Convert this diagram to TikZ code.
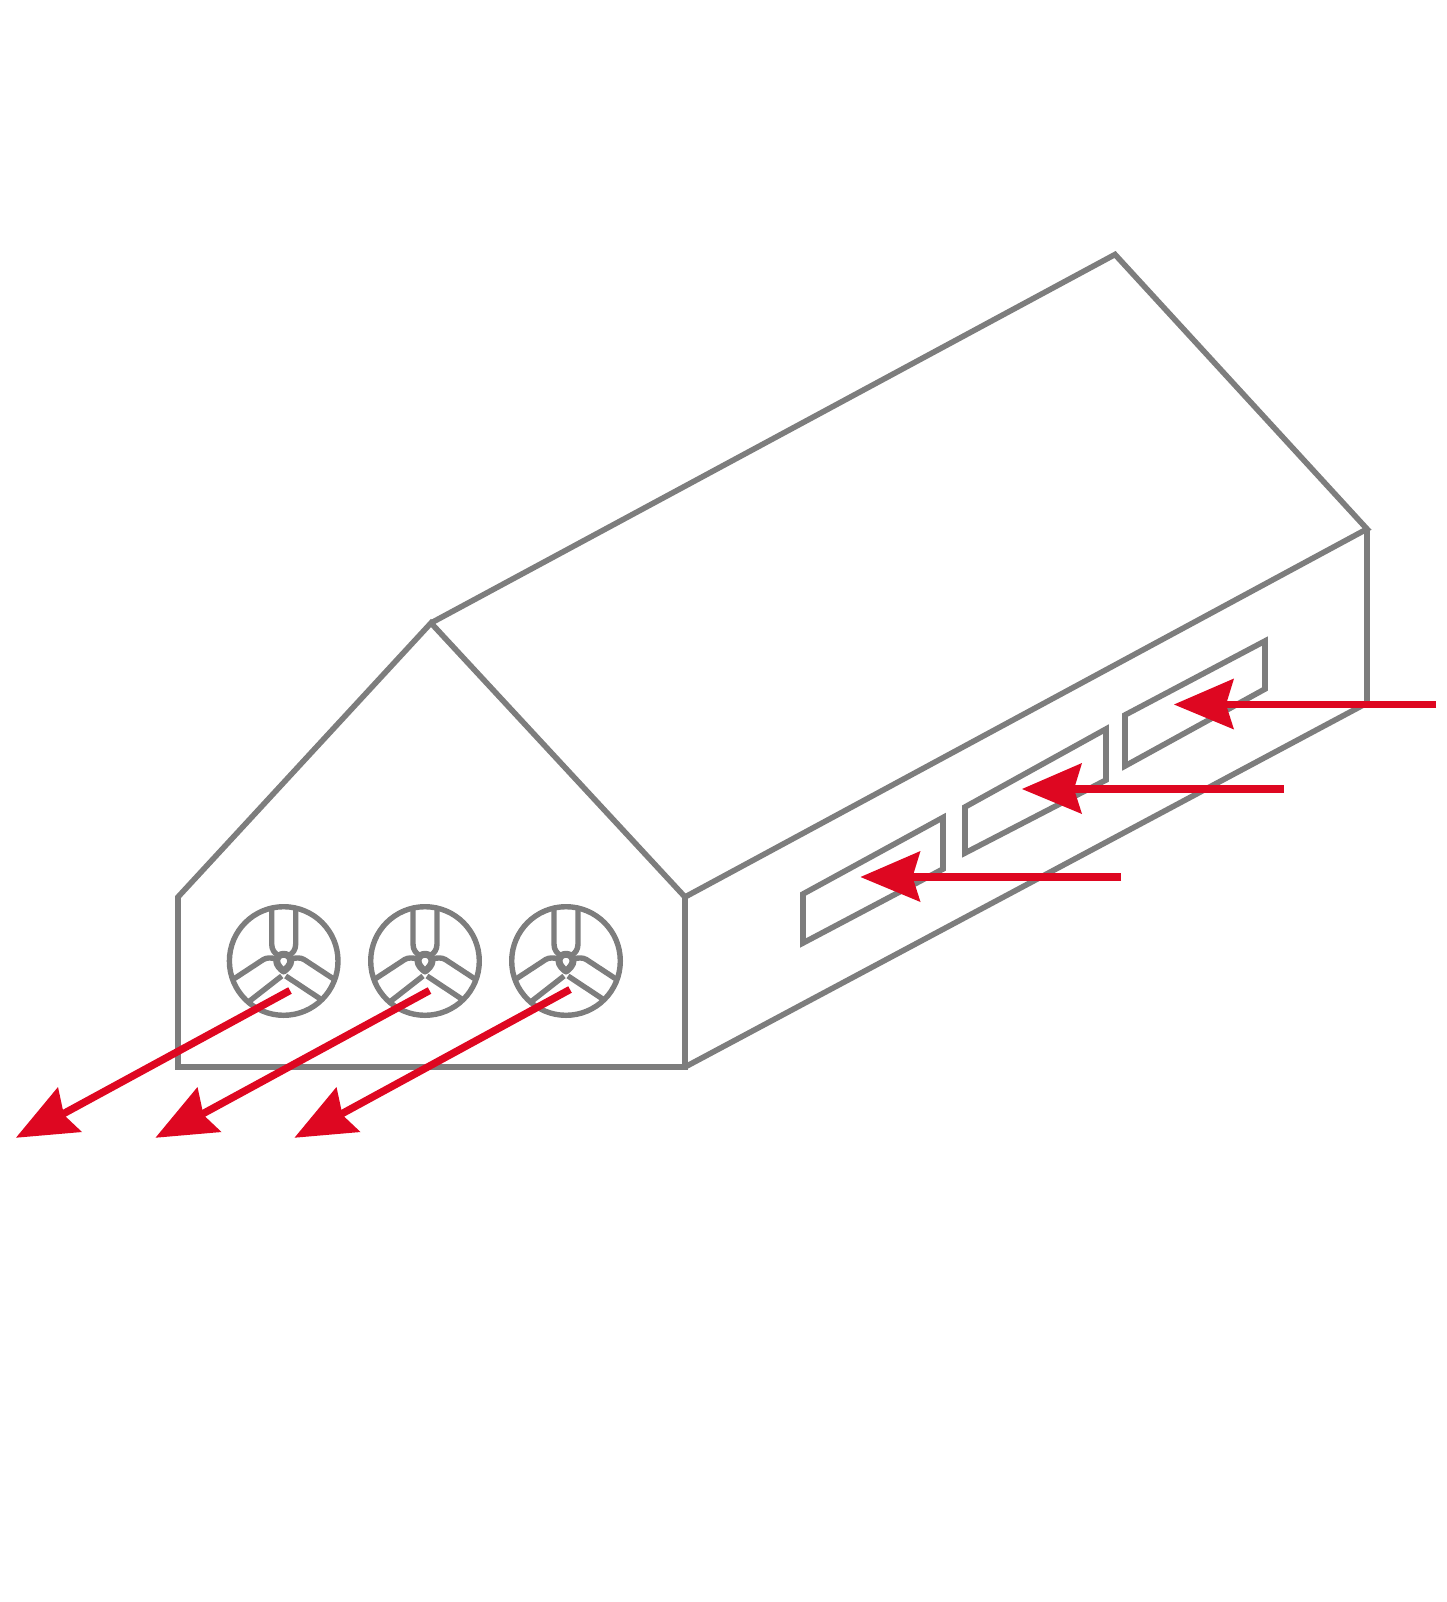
\documentclass[tikz,border=0pt]{standalone}
\definecolor{wallgray}{RGB}{125,125,125}
\definecolor{airred}{RGB}{222,7,33}
\tikzset{
  wall/.style={draw=wallgray,line width=5.6pt,line join=miter,miter limit=4},
  fanline/.style={draw=wallgray,line width=5.4pt,line join=round},
  airshaft/.style={draw=airred,line width=7.4pt},
  airtip/.style={fill=airred,draw=none}
}
\newcommand{\fanat}[1]{%
\begin{scope}[shift={(#1)}]
  \draw[fanline] (0,0) circle (54.3);
  \draw[fanline] (-12,-54) -- (-12,-17) .. controls (-12,-11) and (-9,-8) .. (-6,-6);
  \draw[fanline] (12,-54) -- (12,-17) .. controls (12,-11) and (9,-8) .. (6,-6);
  \draw[fanline] (-52,19.3) -- (-20.3,-1.5) .. controls (-17,-3.5) and (-12,-3.5) .. (-8,-2);
  \draw[fanline] (52,19.3) -- (20.3,-1.5) .. controls (17,-3.5) and (12,-3.5) .. (8,-2);
  \draw[fanline] (-35.3,41) -- (-2,15);
  \draw[fanline] (36.3,37.7) -- (2,15);
  \draw[fanline,line width=7pt] (-7,0) .. controls (-7,-9) and (7,-9) .. (7,0)
     .. controls (7,4) and (3,8) .. (0,10) .. controls (-3,8) and (-7,4) .. cycle;
\end{scope}}
\newcommand{\leftarrowat}[3]{% tip x, tail x, y
  \draw[airshaft] (#2,#3) -- (#1+50,#3);
  \fill[airtip] (#1,#3) -- (#1+60,#3-26) -- (#1+52,#3) -- (#1+60,#3+25) -- cycle;}
\newcommand{\downarrowat}[2]{% x offset, tail point
\begin{scope}[xshift=#1]
  \draw[airshaft] (#2) -- (61,1115);
  \fill[airtip] (16,1137.7) -- (58,1087) -- (64,1115) -- (82,1132) -- cycle;
\end{scope}}
\begin{document}
\begin{tikzpicture}[x=1pt,y=-1pt]
\useasboundingbox (0,0) rectangle (1446,1602);
% building
\draw[wall] (178,897) -- (431,623) -- (685,897) -- (685,1067) -- (178,1067) -- cycle;
\draw[wall] (431,623) -- (1115,254.5) -- (1367,529) -- (685,897);
\draw[wall] (1367,529) -- (1367,703) -- (685,1067);
% windows
\draw[wall] (803,894) -- (943,817.5) -- (943,869) -- (803,943) -- cycle;
\draw[wall] (965,807) -- (1106,729) -- (1106,780) -- (965,853) -- cycle;
\draw[wall] (1125,715) -- (1265,641) -- (1265,689) -- (1125,766) -- cycle;
% fans
\fanat{283.7,961}
\fanat{425,961}
\fanat{566,961}
% air in
\leftarrowat{1174}{1436}{704.5}
\leftarrowat{1022}{1283.5}{789}
\leftarrowat{860.5}{1121}{877}
% air out
\downarrowat{0pt}{290,990.5}
\downarrowat{139.5pt}{290,990.5}
\downarrowat{278.5pt}{291.5,989.5}
\end{tikzpicture}
\end{document}
